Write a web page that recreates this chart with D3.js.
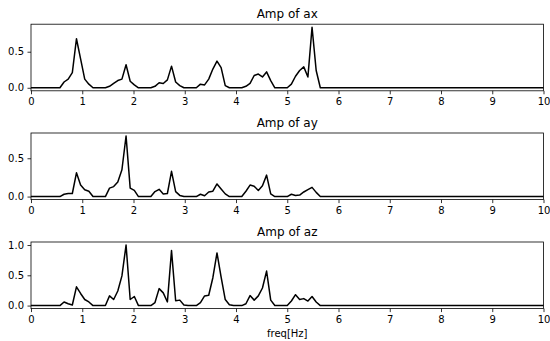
<!DOCTYPE html>
<html lang="en">
<head>
    <meta charset="UTF-8">
    <script src="https://d3js.org/d3.v7.min.js"></script>
    <style>
        body { margin: 0; background: #fff; }
        text { font-family: "DejaVu Sans", sans-serif; fill: #000; }
    </style>
</head>
<body>
    <div id="chart"></div>
<script>
    // frequency grid: rfft bins of 248 samples at 20 Hz -> 125 bins, 0 .. 10 Hz
    const nBins = 125;
    const freqStep = 20 / 248;
    const freqs = d3.range(nBins).map(i => i * freqStep);

    const titles = ['Amp of ax', 'Amp of ay', 'Amp of az'];
    const xTicks = [0, 1, 2, 3, 4, 5, 6, 7, 8, 9, 10];
    const yTicksAx = [0.0, 0.5];
    const yTicksAy = [0.0, 0.5];
    const yTicksAz = [0.0, 0.5, 1.0];

    const ampAx = [
        0, 0, 0, 0, 0, 0, 0, 0, 0.08, 0.12, 0.21, 0.68, 0.40, 0.12, 0.05, 0,
        0, 0, 0, 0.02, 0.06, 0.10, 0.12, 0.32, 0.09, 0.04, 0, 0, 0, 0, 0.02, 0.07,
        0.06, 0.11, 0.30, 0.08, 0.03, 0, 0, 0, 0, 0.05, 0.04, 0.12, 0.26, 0.37, 0.28, 0.03,
        0, 0, 0, 0, 0.02, 0.06, 0.17, 0.19, 0.15, 0.22, 0.10, 0, 0, 0, 0, 0.05,
        0.16, 0.24, 0.29, 0.15, 0.84, 0.24, 0, 0, 0, 0, 0, 0, 0, 0, 0, 0,
        0, 0, 0, 0, 0, 0, 0, 0, 0, 0, 0, 0, 0, 0, 0, 0,
        0, 0, 0, 0, 0, 0, 0, 0, 0, 0, 0, 0, 0, 0, 0, 0,
        0, 0, 0, 0, 0, 0, 0, 0, 0, 0, 0, 0, 0
    ];
    const ampAy = [
        0, 0, 0, 0, 0, 0, 0, 0, 0.03, 0.04, 0.04, 0.31, 0.15, 0.09, 0.07, 0,
        0, 0, 0, 0.11, 0.13, 0.19, 0.35, 0.79, 0.11, 0.08, 0, 0, 0, 0, 0.065, 0.095,
        0.035, 0.04, 0.33, 0.065, 0.015, 0, 0, 0, 0, 0.03, 0.01, 0.06, 0.07, 0.165, 0.10, 0.035,
        0, 0, 0, 0, 0.07, 0.15, 0.135, 0.08, 0.14, 0.28, 0.035, 0, 0, 0, 0, 0.03,
        0.015, 0.02, 0.06, 0.09, 0.12, 0.055, 0, 0, 0, 0, 0, 0, 0, 0, 0, 0,
        0, 0, 0, 0, 0, 0, 0, 0, 0, 0, 0, 0, 0, 0, 0, 0,
        0, 0, 0, 0, 0, 0, 0, 0, 0, 0, 0, 0, 0, 0, 0, 0,
        0, 0, 0, 0, 0, 0, 0, 0, 0, 0, 0, 0, 0
    ];
    const ampAz = [
        0, 0, 0, 0, 0, 0, 0, 0, 0.06, 0.03, 0.01, 0.31, 0.20, 0.10, 0.06, 0,
        0, 0, 0, 0.16, 0.10, 0.24, 0.49, 1.00, 0.10, 0.15, 0, 0, 0, 0, 0.05, 0.28,
        0.21, 0.06, 0.91, 0.08, 0.09, 0.01, 0, 0, 0, 0.05, 0.16, 0.17, 0.46, 0.87, 0.47, 0.10,
        0.015, 0, 0, 0, 0.03, 0.165, 0.09, 0.16, 0.29, 0.57, 0.09, 0, 0, 0, 0, 0.075,
        0.18, 0.10, 0.115, 0.075, 0.15, 0.06, 0, 0, 0, 0, 0, 0, 0, 0, 0, 0,
        0, 0, 0, 0, 0, 0, 0, 0, 0, 0, 0, 0, 0, 0, 0, 0,
        0, 0, 0, 0, 0, 0, 0, 0, 0, 0, 0, 0, 0, 0, 0, 0,
        0, 0, 0, 0, 0, 0, 0, 0, 0, 0, 0, 0, 0
    ];

    const width = 550;
    const height = 341;
    const left = 31;
    const plotW = 512.5;
    const plotH = 66.6;
    const tops = [24.2, 133, 242];

    const panels = [
        { title: titles[0], amp: ampAx, yTicks: yTicksAx },
        { title: titles[1], amp: ampAy, yTicks: yTicksAy },
        { title: titles[2], amp: ampAz, yTicks: yTicksAz }
    ];

    const svg = d3.select('#chart')
        .append('svg')
        .attr('width', width)
        .attr('height', height);

    const xScale = d3.scaleLinear().domain([0, 10]).range([0, plotW]);

    panels.forEach((p, k) => {
        // matplotlib-like 5% margins on y
        const lo = d3.min(p.amp), hi = d3.max(p.amp);
        const pad = (hi - lo) * 0.05;
        const yScale = d3.scaleLinear().domain([lo - pad, hi + pad]).range([plotH, 0]);

        const g = svg.append('g').attr('transform', `translate(${left},${tops[k]})`);

        const line = d3.line()
            .x((d, i) => xScale(freqs[i]))
            .y(d => yScale(d));

        g.append('path')
            .datum(p.amp)
            .attr('fill', 'none')
            .attr('stroke', '#000')
            .attr('stroke-width', 1.5)
            .attr('stroke-linejoin', 'round')
            .attr('d', line);

        const xAxis = d3.axisBottom(xScale).tickValues(xTicks).tickFormat(d3.format('d'))
            .tickSize(3.5).tickPadding(3.5).tickSizeOuter(0);
        const gx = g.append('g').attr('transform', `translate(0,${plotH})`).call(xAxis);

        const yAxis = d3.axisLeft(yScale).tickValues(p.yTicks).tickFormat(d3.format('.1f'))
            .tickSize(3.5).tickPadding(3.5).tickSizeOuter(0);
        const gy = g.append('g').call(yAxis);

        [gx, gy].forEach(a => {
            a.select('.domain').remove();
            a.selectAll('line').attr('stroke', '#000').attr('stroke-width', 0.8);
            a.selectAll('text').attr('font-size', 10).attr('font-family', 'DejaVu Sans').attr('fill', '#000');
        });

        // frame
        g.append('rect')
            .attr('width', plotW)
            .attr('height', plotH)
            .attr('fill', 'none')
            .attr('stroke', '#000')
            .attr('stroke-width', 0.8);

        g.append('text')
            .attr('x', plotW / 2)
            .attr('y', -6)
            .attr('text-anchor', 'middle')
            .attr('font-size', 12)
            .text(p.title);
    });

    svg.append('text')
        .attr('x', left + plotW / 2)
        .attr('y', 337)
        .attr('text-anchor', 'middle')
        .attr('font-size', 10)
        .text('freq[Hz]');
</script>
</body>
</html>
